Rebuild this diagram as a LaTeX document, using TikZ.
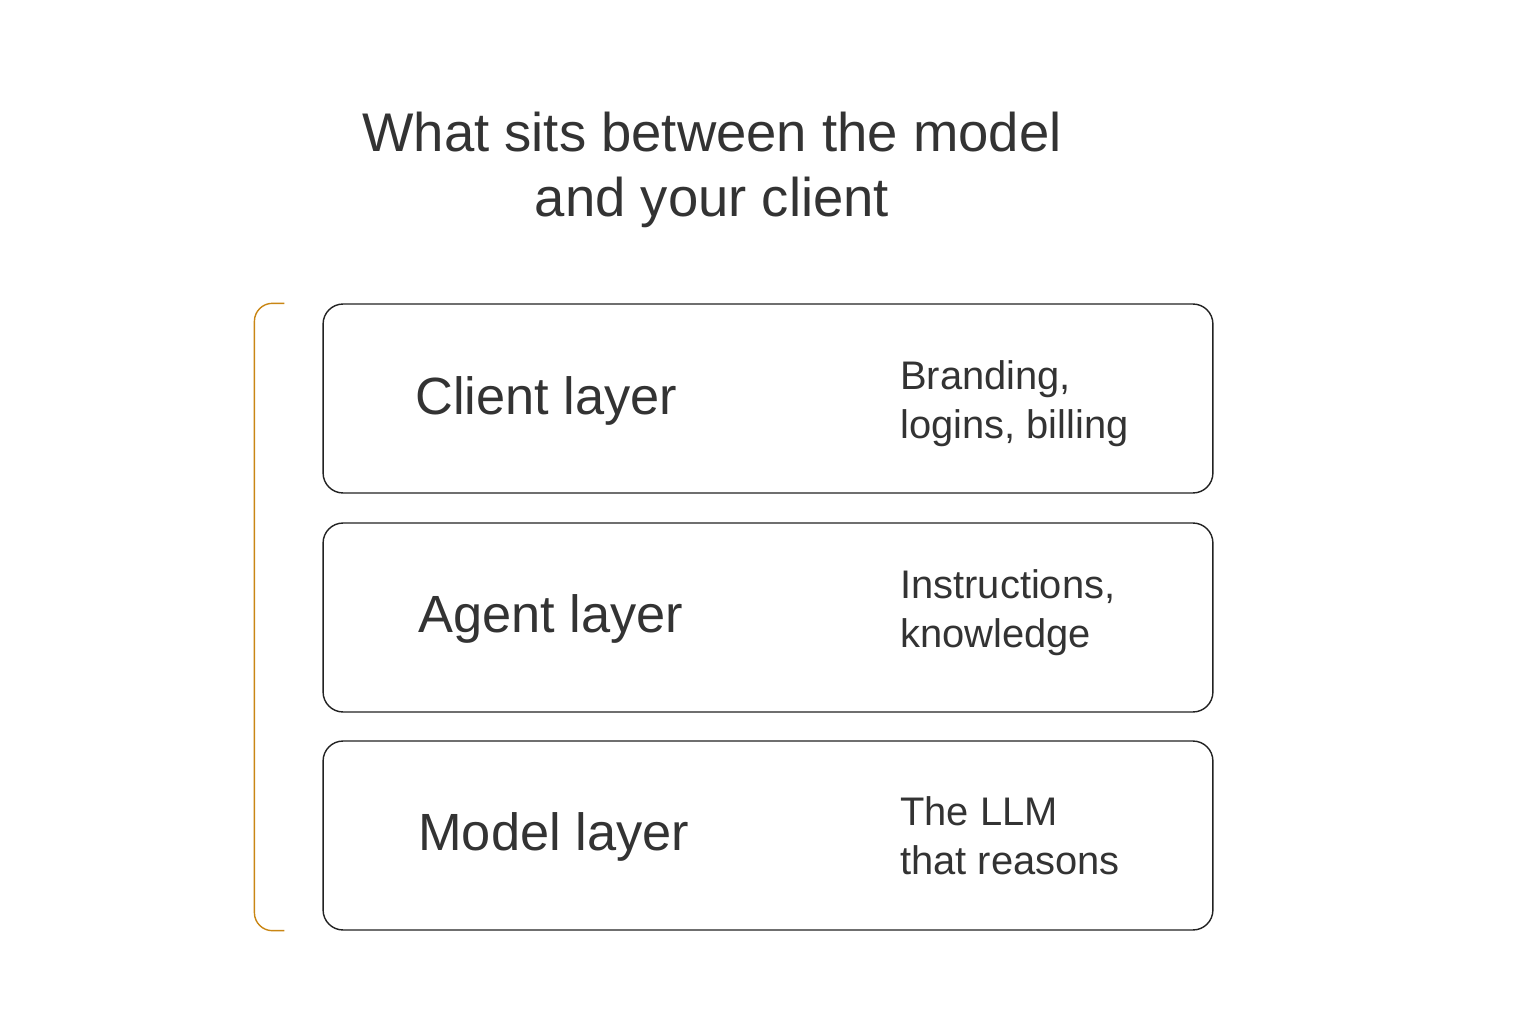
\documentclass[tikz,border=0pt]{standalone}
\usepackage{fontspec}
\setmainfont{Liberation Sans}
\usetikzlibrary{positioning}
\definecolor{textgray}{RGB}{51,51,51}
\definecolor{boxline}{RGB}{34,34,34}
\definecolor{bracketgold}{RGB}{201,134,20}

\begin{document}
\begin{tikzpicture}[x=0.02cm, y=-0.02cm,
    layerbox/.style={draw=boxline, line width=0.8pt, rounded corners=0.4cm,
        minimum width=17.8cm, minimum height=3.78cm},
    layername/.style={anchor=west, text=textgray, font=\fontsize{29.8}{36}\selectfont, inner sep=0pt},
    layernote/.style={anchor=west, text=textgray, align=left, font=\fontsize{22.7}{27.8}\selectfont, inner sep=0pt},
    bracket/.style={draw=bracketgold, line width=0.8pt, rounded corners=0.36cm}]
    \useasboundingbox (0,0) rectangle (1536,1024);

    % Title
    \node[text=textgray, align=center, font=\fontsize{31}{37}\selectfont] (title) at (712,170) {
        What sits between the model \\
        and your client
    };

    % Client layer
    \node[layerbox] (clientbox) at (768,398.5) {};
    \node[layername] (clientname) at (415,401) {Client layer};
    \node[layernote] (clientnote) at (900,404) {Branding,\\logins, billing};

    % Agent layer
    \node[layerbox] (agentbox) at (768,617.5) {};
    \node[layername] (agentname) at (418,619) {Agent layer};
    \node[layernote] (agentnote) at (900,613) {Instructions,\\knowledge};

    % Model layer
    \node[layerbox] (modelbox) at (768,835.5) {};
    \node[layername] (modelname) at (418,837) {Model layer};
    \node[layernote] (modelnote) at (900,836) {The LLM\\that reasons};

    % Bracket
    \draw[bracket] ([xshift=-0.76cm]clientbox.north west) -- ++(-0.6cm,0)
        |- ([xshift=-0.76cm]modelbox.south west);
\end{tikzpicture}
\end{document}
